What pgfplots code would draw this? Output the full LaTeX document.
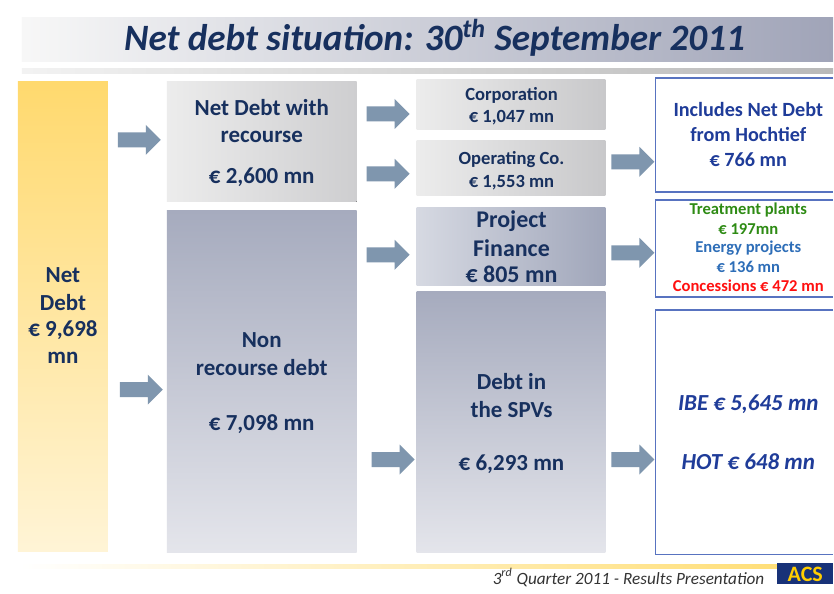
\documentclass[border=0pt]{standalone}
\usepackage{fontspec}
\setmainfont{Carlito}
\usepackage{pgfplots}
\pgfplotsset{compat=1.18}
\definecolor{navy}{HTML}{17305E}
\definecolor{brightblue}{HTML}{1F3C99}
\definecolor{arrowc}{HTML}{7F96AE}
\definecolor{boxedge}{HTML}{5873C0}
\definecolor{tgreen}{HTML}{2E8B14}
\definecolor{tblue}{HTML}{2E6EB8}
\definecolor{tred}{HTML}{FF1010}
\definecolor{bandR}{HTML}{A0A4B8}
\definecolor{footY}{HTML}{FFDC6E}
\definecolor{logoB}{HTML}{183278}
\definecolor{logoY}{HTML}{FFCD00}
\definecolor{yelTop}{HTML}{FFD96E}
\definecolor{yelBot}{HTML}{FFF4D6}
\definecolor{greyL}{HTML}{ECECEC}
\definecolor{greyR}{HTML}{CECED0}
\definecolor{greyR2}{HTML}{C8C8CA}
\definecolor{slateT}{HTML}{A6ABBE}
\definecolor{slateB}{HTML}{E4E5EB}
\definecolor{slateL}{HTML}{D6D9E2}
\definecolor{slateR}{HTML}{A0A6BA}
\newcommand{\fs}[2]{\fontsize{#1}{#2}\selectfont}
% arrow: left x, centre y (pixel units of the reference)
\newcommand{\arr}[2]{\fill[arrowc] (#1,#2-7.5) -- (#1+28,#2-7.5) -- (#1+28,#2-15) -- (#1+43,#2) -- (#1+28,#2+15) -- (#1+28,#2+7.5) -- (#1,#2+7.5) -- cycle;}
\begin{document}
\begin{tikzpicture}
\begin{axis}[
  width=417pt, height=292.5pt, scale only axis,
  xmin=0, xmax=834, ymin=0, ymax=585, y dir=reverse,
  hide axis, clip=false,
]
\fill[white] (0,0) rectangle (834,585);
% title band
\fill[left color=gray!6, right color=bandR] (22,18) rectangle (834,62);
\fill[left color=gray!10, right color=gray!55] (22,69) rectangle (834,74);
\node[navy, font=\bfseries\itshape\fs{18.6}{21}] at (435,38) {Net debt situation: 30\textsuperscript{th} September 2011};
% footer
\fill[left color=white, right color=footY] (20,565) rectangle (834,569);
\node[black!80, font=\itshape\fs{8.6}{9}, anchor=east] at (772,578) {3\textsuperscript{rd} Quarter 2011 - Results Presentation};
\fill[logoB] (778,564) rectangle (834,585);
\node[logoY, font=\bfseries\fs{11}{12}] at (806,575) {ACS};
% column 1
\fill[top color=yelTop, bottom color=yelBot] (18,82) rectangle (108,552);
\begin{scope}[every node/.style={navy, font=\bfseries\fs{11.5}{14}}]
\node at (63,275) {Net};
\node at (63,303) {Debt};
\node at (63,330) {€ 9,698};
\node at (63,358) {mn};
\end{scope}
\arr{118}{140}
\arr{120}{390}
% column 2
\fill[left color=greyL, right color=greyR] (167,82) rectangle (357,202);
\fill[top color=slateT, bottom color=slateB] (167,211) rectangle (357,553);
\begin{scope}[every node/.style={navy, font=\bfseries\fs{11.5}{14}}]
\node at (262,108) {Net Debt with};
\node at (262,137) {recourse};
\node at (262,177) {€ 2,600 mn};
\node at (262,340) {Non};
\node at (262,368) {recourse debt};
\node at (262,425) {€ 7,098 mn};
\end{scope}
\arr{367}{114}
\arr{367}{174}
\arr{367}{255}
\arr{372}{460}
% column 3
\fill[left color=greyL, right color=greyR2] (417,80) rectangle (606,130);
\fill[left color=greyL, right color=greyR2] (417,141) rectangle (606,196);
\fill[left color=slateL, right color=slateR] (417,208) rectangle (606,286);
\fill[top color=slateT, bottom color=slateB] (417,292) rectangle (606,553);
\begin{scope}[every node/.style={navy, font=\bfseries\fs{9.3}{11}}]
\node at (512,96) {Corporation};
\node at (512,118) {€ 1,047 mn};
\node at (512,160) {Operating Co.};
\node at (512,183) {€ 1,553 mn};
\end{scope}
\begin{scope}[every node/.style={navy, font=\bfseries\fs{12}{14}}]
\node at (512,221) {Project};
\node at (512,248) {Finance};
\node at (512,275) {€ 805 mn};
\end{scope}
\begin{scope}[every node/.style={navy, font=\bfseries\fs{11.5}{14}}]
\node at (512,382) {Debt in};
\node at (512,410) {the SPVs};
\node at (512,465) {€ 6,293 mn};
\end{scope}
\arr{612}{162}
\arr{612}{253}
\arr{612}{460}
% column 4
\draw[boxedge, line width=0.8pt] (834,78) -- (656,78) -- (656,192) -- (834,192);
\draw[boxedge, line width=0.8pt] (834,200) -- (656,200) -- (656,297) -- (834,297);
\draw[boxedge, line width=0.8pt] (834,310) -- (656,310) -- (656,555) -- (834,555);
\begin{scope}[every node/.style={brightblue, font=\bfseries\fs{10.1}{12}}]
\node at (749,110) {Includes Net Debt};
\node at (749,135) {from Hochtief};
\node at (749,160) {€ 766 mn};
\end{scope}
\begin{scope}[every node/.style={font=\bfseries\fs{8.3}{10}}]
\node[tgreen] at (749,210) {Treatment plants};
\node[tgreen] at (749,229) {€ 197mn};
\node[tblue] at (749,248) {Energy projects};
\node[tblue] at (749,267) {€ 136 mn};
\node[tred] at (749,286) {Concessions € 472 mn};
\end{scope}
\begin{scope}[every node/.style={brightblue, font=\bfseries\itshape\fs{11.5}{14}}]
\node at (749,405) {IBE € 5,645 mn};
\node at (749,462) {HOT € 648 mn};
\end{scope}
\end{axis}
\end{tikzpicture}
\end{document}
